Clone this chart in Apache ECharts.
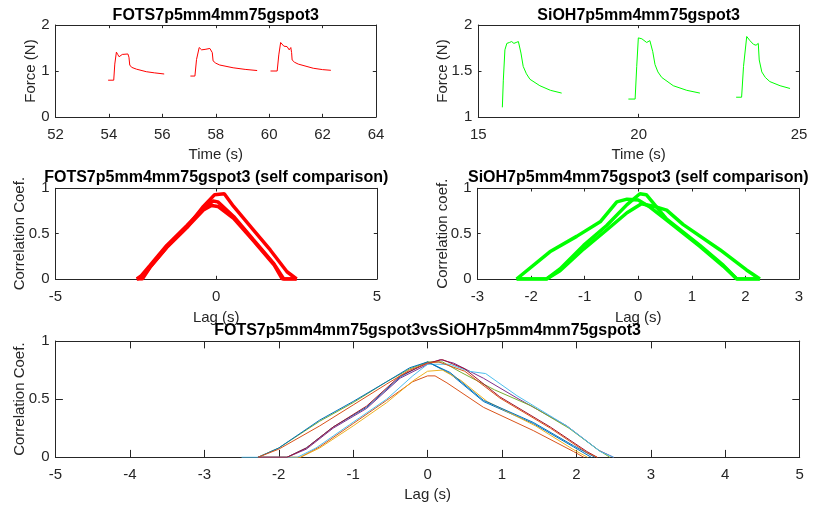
<!DOCTYPE html>
<html>
<head>
<meta charset="utf-8">
<script src="https://cdn.jsdelivr.net/npm/echarts@6/dist/echarts.min.js"></script>
<style>html,body{margin:0;padding:0;background:#fff;}#chart{width:813px;height:510px;}</style>
</head>
<body>
<div id="chart"></div>
<script>
// ---------- Force traces (time s, force N) ----------
const fotsTrial1 = [[53.97,0.80],[54.18,0.80],[54.22,1.15],[54.28,1.41],[54.33,1.36],[54.38,1.31],[54.50,1.36],[54.71,1.37],[54.75,1.30],[54.78,1.13],[54.85,1.08],[55.03,1.04],[55.40,0.985],[55.70,0.96],[56.07,0.935]];
const fotsTrial2 = [[57.05,0.89],[57.22,0.89],[57.28,1.25],[57.38,1.51],[57.47,1.46],[57.60,1.47],[57.78,1.49],[57.84,1.51],[57.87,1.40],[57.90,1.22],[58.00,1.17],[58.15,1.13],[58.65,1.07],[59.10,1.035],[59.55,1.01]];
const fotsTrial3 = [[60.05,1.00],[60.30,1.00],[60.36,1.35],[60.43,1.62],[60.55,1.54],[60.67,1.53],[60.75,1.46],[60.81,1.51],[60.84,1.40],[60.86,1.24],[60.95,1.19],[61.09,1.15],[61.65,1.06],[62.00,1.03],[62.31,1.015]];
const siohTrial1 = [[15.75,1.105],[15.78,1.40],[15.83,1.73],[15.89,1.80],[15.97,1.81],[16.04,1.82],[16.11,1.80],[16.18,1.81],[16.25,1.82],[16.30,1.83],[16.33,1.695],[16.40,1.55],[16.50,1.47],[16.61,1.41],[16.92,1.34],[17.25,1.29],[17.60,1.26]];
const siohTrial2 = [[19.68,1.195],[19.89,1.195],[19.94,1.55],[19.99,1.86],[20.10,1.85],[20.25,1.81],[20.35,1.83],[20.41,1.85],[20.44,1.71],[20.51,1.57],[20.60,1.49],[20.72,1.43],[21.08,1.34],[21.50,1.29],[21.91,1.26]];
const siohTrial3 = [[23.04,1.215],[23.21,1.215],[23.27,1.55],[23.37,1.875],[23.47,1.83],[23.58,1.79],[23.66,1.78],[23.73,1.80],[23.76,1.62],[23.84,1.49],[23.95,1.43],[24.09,1.385],[24.41,1.34],[24.72,1.31]];

// ---------- FOTS self comparison (lag s, coefficient) ----------
const fotsSelf12 = [[-2.47,0],[-2.30,0],[-2.06,0.13],[-1.54,0.35],[-0.91,0.57],[-0.40,0.80],[-0.05,0.93],[0.25,0.94],[0.54,0.80],[1.16,0.54],[1.68,0.32],[2.20,0.08],[2.50,0]];
const fotsSelf13 = [[-2.47,0],[-2.35,0.03],[-2.06,0.15],[-1.54,0.37],[-0.91,0.59],[-0.40,0.78],[-0.10,0.86],[0.05,0.85],[0.54,0.69],[1.16,0.43],[1.79,0.17],[2.10,0],[2.50,0]];
const fotsSelf23 = [[-2.47,0],[-2.30,0.02],[-2.06,0.13],[-1.54,0.35],[-0.91,0.57],[-0.40,0.76],[-0.15,0.81],[0.05,0.80],[0.54,0.67],[1.16,0.42],[1.79,0.16],[2.05,0],[2.50,0]];

// ---------- SiOH self comparison ----------
const siohSelf12 = [[-2.27,0],[-1.65,0.30],[-1.15,0.47],[-0.71,0.63],[-0.40,0.85],[-0.21,0.88],[0.00,0.87],[0.20,0.80],[0.53,0.65],[1.15,0.36],[1.59,0.14],[1.84,0],[2.27,0]];
const siohSelf13 = [[-2.27,0],[-1.71,0],[-1.46,0.11],[-1.02,0.37],[-0.59,0.59],[-0.21,0.82],[0.03,0.94],[0.15,0.93],[0.53,0.66],[1.15,0.37],[1.59,0.15],[1.84,0],[2.27,0]];
const siohSelf23 = [[-2.27,0],[-1.71,0],[-1.46,0.09],[-1.02,0.33],[-0.59,0.54],[-0.21,0.73],[0.06,0.83],[0.30,0.80],[0.53,0.76],[0.84,0.60],[1.53,0.32],[2.02,0.10],[2.27,0]];

// ---------- FOTS vs SiOH cross comparison ----------
const cross1 = [[-2.28,0],[-1.89,0],[-1.63,0.08],[-1.27,0.26],[-0.82,0.43],[-0.37,0.69],[0.00,0.82],[0.30,0.72],[0.75,0.48],[1.42,0.29],[1.96,0.09],[2.20,0]];
const cross2 = [[-2.28,0],[-1.71,0],[-1.45,0.09],[-1.00,0.29],[-0.55,0.49],[-0.20,0.65],[0.00,0.70],[0.10,0.70],[0.26,0.64],[0.75,0.43],[1.42,0.23],[1.96,0.05],[2.10,0]];
const cross3 = [[-2.28,0],[-1.71,0],[-1.45,0.08],[-1.00,0.27],[-0.55,0.47],[-0.19,0.66],[0.00,0.74],[0.20,0.75],[0.45,0.66],[0.80,0.48],[1.45,0.27],[1.95,0.07],[2.15,0]];
const cross4 = [[-2.28,0],[-1.89,0],[-1.63,0.07],[-1.27,0.25],[-0.82,0.42],[-0.37,0.68],[0.00,0.80],[0.17,0.84],[0.35,0.81],[0.75,0.68],[1.20,0.51],[1.87,0.27],[2.30,0.06],[2.50,0]];
const cross5 = [[-2.28,0],[-2.00,0.08],[-1.45,0.31],[-1.00,0.47],[-0.55,0.65],[-0.24,0.76],[0.00,0.82],[0.20,0.82],[0.45,0.73],[0.90,0.58],[1.40,0.44],[1.90,0.25],[2.30,0.06],[2.45,0]];
const cross6 = [[-2.50,0],[-1.75,0],[-1.50,0.08],[-1.05,0.28],[-0.55,0.50],[-0.20,0.70],[0.00,0.80],[0.30,0.80],[0.55,0.74],[0.78,0.72],[1.20,0.53],[1.87,0.27],[2.32,0.05],[2.50,0]];
const cross7 = [[-2.28,0],[-1.89,0],[-1.63,0.08],[-1.27,0.26],[-0.82,0.44],[-0.37,0.70],[0.00,0.81],[0.20,0.84],[0.50,0.76],[0.97,0.52],[1.65,0.26],[2.14,0.05],[2.28,0]];
const cross8 = [[-2.28,0],[-2.00,0.08],[-1.45,0.32],[-1.00,0.48],[-0.55,0.65],[-0.24,0.77],[0.00,0.82],[0.30,0.73],[0.75,0.49],[1.42,0.30],[1.96,0.10],[2.25,0]];
const cross9 = [[-2.28,0],[-2.00,0.07],[-1.45,0.27],[-1.00,0.45],[-0.55,0.63],[-0.24,0.75],[0.00,0.81],[0.15,0.82],[0.50,0.74],[0.97,0.51],[1.65,0.25],[2.14,0.04],[2.28,0]];

const crossColors = ['#0072BD','#D95319','#EDB120','#7E2F8E','#77AC30','#4DBEEE','#A2142F','#0072BD','#D95319'];
const crossCurves = [cross1,cross2,cross3,cross4,cross5,cross6,cross7,cross8,cross9];

const titles = ['FOTS7p5mm4mm75gspot3','SiOH7p5mm4mm75gspot3','FOTS7p5mm4mm75gspot3 (self comparison)','SiOH7p5mm4mm75gspot3 (self comparison)','FOTS7p5mm4mm75gspot3vsSiOH7p5mm4mm75gspot3'];

const axisColor = '#262626';
const font = '"Liberation Sans", Arial, Helvetica, sans-serif';

const grids = [
  {left:55.5, top:25, width:320.5, height:92},
  {left:478.3, top:25, width:320.7, height:92},
  {left:55.5, top:188.3, width:321.5, height:90.7},
  {left:477.5, top:188.3, width:321.5, height:90.7},
  {left:55.5, top:341, width:744.2, height:116.3}
].map(g => Object.assign(g, {containLabel:false, outerBoundsMode:'none'}));

function baseAxis(gi, min, max, interval, tickLen) {
  return {gridIndex:gi, type:'value', min:min, max:max, interval:interval,
    splitLine:{show:false}, nameMoveOverlap:false,
    axisLine:{show:true, onZero:false, lineStyle:{color:axisColor, width:1}},
    axisTick:{show:true, inside:true, length:tickLen, lineStyle:{color:axisColor, width:1}}};
}
const xAxes = [], yAxes = [];
function addX(gi, min, max, interval, tickLen, name, nameGap) {
  xAxes.push(Object.assign(baseAxis(gi,min,max,interval,tickLen), {position:'bottom', name:name, nameLocation:'middle', nameGap:nameGap,
    nameTextStyle:{fontFamily:font, fontSize:15, color:axisColor},
    axisLabel:{show:true, margin:10, fontFamily:font, fontSize:15, color:axisColor}}));
  xAxes.push(Object.assign(baseAxis(gi,min,max,interval,tickLen), {position:'top', axisLabel:{show:false}}));
}
function addY(gi, min, max, interval, tickLen, name, nameGap) {
  yAxes.push(Object.assign(baseAxis(gi,min,max,interval,tickLen), {position:'left', name:name, nameLocation:'middle', nameGap:nameGap,
    nameTextStyle:{fontFamily:font, fontSize:15, color:axisColor},
    axisLabel:{show:true, margin:6, fontFamily:font, fontSize:15, color:axisColor}}));
  yAxes.push(Object.assign(baseAxis(gi,min,max,interval,tickLen), {position:'right', axisLabel:{show:false}}));
}
addX(0, 52, 64, 2, 3.2, 'Time (s)', 30);  addY(0, 0, 2, 1, 3.2, 'Force (N)', 17);
addX(1, 15, 25, 5, 3.2, 'Time (s)', 30);  addY(1, 1, 2, 0.5, 3.2, 'Force (N)', 27.5);
addX(2, -5, 5, 5, 3.2, 'Lag (s)', 31);    addY(2, 0, 1, 0.5, 3.2, 'Correlation Coef.', 28);
addX(3, -3, 3, 1, 3.2, 'Lag (s)', 31);    addY(3, 0, 1, 0.5, 3.2, 'Correlation coef.', 27.5);
addX(4, -5, 5, 1, 7.4, 'Lag (s)', 30);    addY(4, 0, 1, 0.5, 7.4, 'Correlation Coef.', 28);

function lineSeries(gi, data, color, width) {
  return {type:'line', xAxisIndex:gi*2, yAxisIndex:gi*2, data:data, showSymbol:false, symbol:'none',
    lineStyle:{color:color, width:width}, itemStyle:{color:color}, silent:true, animation:false};
}
const series = [];
[fotsTrial1,fotsTrial2,fotsTrial3].forEach(d => series.push(lineSeries(0, d, '#FF0000', 1)));
[siohTrial1,siohTrial2,siohTrial3].forEach(d => series.push(lineSeries(1, d, '#00FF00', 1)));
[fotsSelf12,fotsSelf13,fotsSelf23].forEach(d => series.push(lineSeries(2, d, '#FF0000', 3.5)));
[siohSelf12,siohSelf13,siohSelf23].forEach(d => series.push(lineSeries(3, d, '#00FF00', 3.5)));
crossCurves.forEach((d,i) => series.push(lineSeries(4, d, crossColors[i], 1)));

const titleTops = [7.5, 7.5, 170, 170, 323];
const title = titles.map((t,i) => ({text:t, left:grids[i].left + grids[i].width/2, top:titleTops[i], textAlign:'center', padding:0,
  textStyle:{fontFamily:font, fontSize:16, fontWeight:'bold', color:'#000'}}));

const chart = echarts.init(document.getElementById('chart'), null, {renderer:'canvas'});
chart.setOption({animation:false, backgroundColor:'#fff', title:title, grid:grids, xAxis:xAxes, yAxis:yAxes, series:series});
</script>
</body>
</html>
